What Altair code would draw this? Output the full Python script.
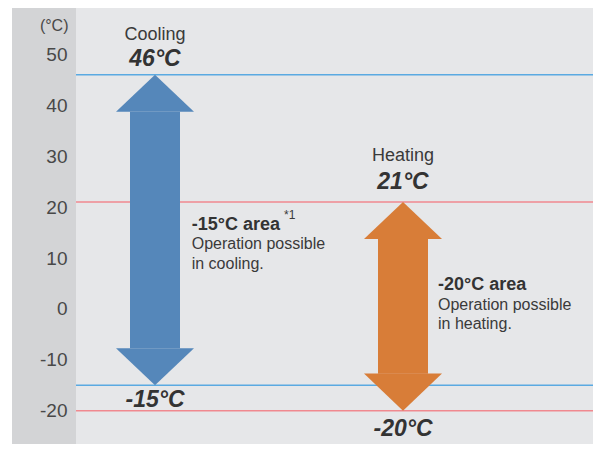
import altair as alt
import pandas as pd

# ---- data ----
modes = ["Cooling", "Heating"]
upper = [46, 21]
lower = [-15, -20]
area_titles = ["-15°C area", "-20°C area"]
area_note1 = ["Operation possible", "Operation possible"]
area_note2 = ["in cooling.", "in heating."]
area_marks = ["*1", ""]
y_ticks = [50, 40, 30, 20, 10, 0, -10, -20]

arrow_colors = ["#5587ba", "#d87d38"]
line_colors = ["#5aaae2", "#f0898f"]

df = pd.DataFrame({
    "mode": modes,
    "upper": upper,
    "lower": lower,
    "upper_label": [f"{v}°C" for v in upper],
    "lower_label": [f"{v}°C" for v in lower],
    "area_title": area_titles,
    "note1": area_note1,
    "note2": area_note2,
    "mark": area_marks,
})
lines = pd.DataFrame({"mode": modes * 2, "temp": upper + lower})

W, H = 517, 436
F = "Liberation Sans"

yscale = alt.Scale(domain=[-26.55, 59.13], nice=False, zero=False)
xscale = alt.Scale(type="point", domain=modes, range=[79, 327], padding=0)
X = alt.X("mode:N", scale=xscale, axis=None)
fill = alt.Fill("mode:N", scale=alt.Scale(domain=modes, range=arrow_colors), legend=None)

yaxis = alt.Axis(
    values=y_ticks, domain=False, ticks=False, grid=False,
    labelExpr="'' + datum.value",
    labelFontSize=19, labelColor="#484848", labelFont=F, labelPadding=9,
    labelFlush=False, labelOverlap=False,
    title="(°C)", titleAngle=0, titleAlign="right", titleBaseline="middle",
    titleX=-8, titleY=17, titleFontSize=16, titleFontWeight="normal",
    titleColor="#484848", titleFont=F, zindex=1,
)

band = alt.Chart(pd.DataFrame({"a": [0]})).mark_rect(color="#d3d4d6").encode(
    x=alt.value(-64), x2=alt.value(0), y=alt.value(0), y2=alt.value(H)
)

rules = alt.Chart(lines).mark_rule(strokeWidth=1.5).encode(
    y=alt.Y("temp:Q", scale=yscale, axis=yaxis),
    stroke=alt.Stroke("mode:N", scale=alt.Scale(domain=modes, range=line_colors), legend=None),
)

shaft = alt.Chart(df).mark_bar(size=50, yOffset=37, y2Offset=-37).encode(
    x=X, y=alt.Y("upper:Q", scale=yscale), y2="lower:Q", fill=fill
)

up_head = alt.Chart(df).mark_point(
    shape="M0,0L1,0.95L-1,0.95Z", size=6084, filled=True, opacity=1, strokeWidth=0
).encode(x=X, y=alt.Y("upper:Q", scale=yscale), fill=fill)

down_head = alt.Chart(df).mark_point(
    shape="M0,0L1,-0.95L-1,-0.95Z", size=6084, filled=True, opacity=1, strokeWidth=0
).encode(x=X, y=alt.Y("lower:Q", scale=yscale), fill=fill)

layout = {
    "Cooling": dict(title=-39.8, up=-16.3, low=14.8, adx=36.7, ay=[217, 236, 256], sup=(129, 207)),
    "Heating": dict(title=-46.0, up=-20.5, low=18.3, adx=35.0, ay=[277, 297, 316], sup=None),
}

layers = [band, rules, shaft, up_head, down_head]
for m in modes:
    L = layout[m]
    base = alt.Chart(df).transform_filter(alt.datum.mode == m)
    layers.append(base.mark_text(dy=L["title"], fontSize=18, font=F, color="#3a3a3a").encode(
        x=X, y=alt.Y("upper:Q", scale=yscale), text="mode:N"))
    layers.append(base.mark_text(dy=L["up"], fontSize=23, font=F, fontWeight="bold",
                                 fontStyle="italic", color="#333333").encode(
        x=X, y=alt.Y("upper:Q", scale=yscale), text="upper_label:N"))
    layers.append(base.mark_text(dy=L["low"], fontSize=23, font=F, fontWeight="bold",
                                 fontStyle="italic", color="#333333").encode(
        x=X, y=alt.Y("lower:Q", scale=yscale), text="lower_label:N"))
    layers.append(base.mark_text(align="left", dx=L["adx"], fontSize=18, font=F,
                                 fontWeight="bold", color="#333333").encode(
        x=X, y=alt.value(L["ay"][0]), text="area_title:N"))
    layers.append(base.mark_text(align="left", dx=L["adx"], fontSize=16, font=F,
                                 color="#3a3a3a").encode(
        x=X, y=alt.value(L["ay"][1]), text="note1:N"))
    layers.append(base.mark_text(align="left", dx=L["adx"], fontSize=16, font=F,
                                 color="#3a3a3a").encode(
        x=X, y=alt.value(L["ay"][2]), text="note2:N"))
    if L["sup"]:
        layers.append(base.mark_text(align="left", dx=L["sup"][0], fontSize=12, font=F,
                                     color="#3a3a3a").encode(
            x=X, y=alt.value(L["sup"][1]), text="mark:N"))

chart = alt.layer(*layers).properties(
    width=W, height=H,
    padding={"left": 68, "top": 0, "right": 0, "bottom": 0},
    autosize=alt.AutoSizeParams(type="none"),
    background="white",
).configure_view(fill="#e6e7e9", stroke=None)

chart.save("out.html", embed_options={"renderer": "svg", "actions": False})
